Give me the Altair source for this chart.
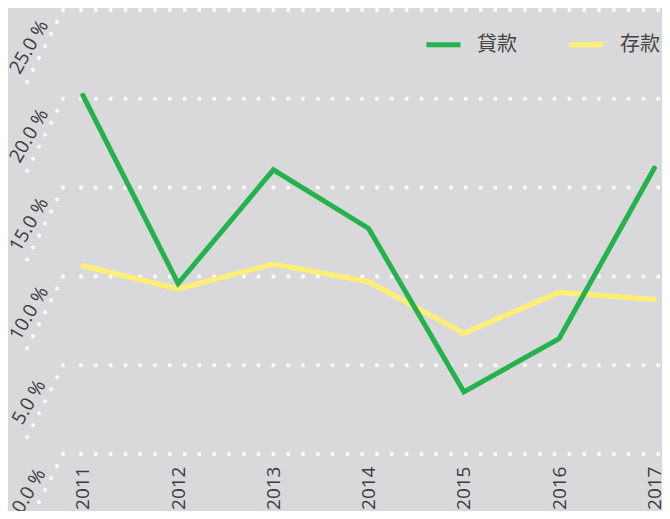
import altair as alt
import pandas as pd

years = [2011, 2012, 2013, 2014, 2015, 2016, 2017]
loans = [20.2, 9.6, 16.0, 12.7, 3.5, 6.5, 16.1]      # 貸款
deposits = [10.6, 9.3, 10.7, 9.7, 6.8, 9.1, 8.7]     # 存款
series_names = ["貸款", "存款"]
series_colors = ["#23b24b", "#fff073"]
y_ticks = [0, 5, 10, 15, 20, 25]
y_labels = ["0.0 %", "5.0 %", "10.0 %", "15.0 %", "20.0 %", "25.0 %"]

W, H = 602, 444
BG = "#d9d9db"
TXT = "#3c3c3c"

df = pd.DataFrame(
    [{"year": y, "value": v, "series": "貸款"} for y, v in zip(years, loans)]
    + [{"year": y, "value": v, "series": "存款"} for y, v in zip(years, deposits)]
)
ticks_df = pd.DataFrame({"v": y_ticks, "label": y_labels})

xscale = alt.Scale(domain=[2010.76, 2017.08], nice=False, zero=False)
yscale = alt.Scale(domain=[0, 25], nice=False, zero=True)

grid = alt.Chart(ticks_df).mark_rule(
    color="white", strokeWidth=4, strokeCap="round", strokeDash=[0, 14.8]
).encode(
    x=alt.value(21), x2=alt.value(W),
    y=alt.Y("v:Q", scale=yscale, axis=None),
)

diag = alt.Chart(ticks_df).mark_rule(
    color="white", strokeWidth=4, strokeCap="round", strokeDash=[0, 13.4], y2Offset=72
).encode(
    x=alt.value(3), x2=alt.value(-33),
    y=alt.Y("v:Q", scale=yscale, axis=None),
    y2="v:Q",
)

ylab = alt.Chart(ticks_df).mark_text(
    angle=300, align="center", baseline="middle", font="Open Sans",
    fontSize=19, color=TXT, yOffset=37
).encode(
    x=alt.value(-31),
    y=alt.Y("v:Q", scale=yscale, axis=None),
    text="label:N",
)

xaxis = alt.Axis(
    values=years, format="d", labelAngle=270, labelAlign="right",
    labelBaseline="middle", labelPadding=12, labelFont="Open Sans",
    labelFontSize=19, labelColor=TXT, domain=False, ticks=False, grid=False,
    title=None,
)

color = alt.Color(
    "series:N",
    scale=alt.Scale(domain=series_names, range=series_colors),
    legend=alt.Legend(
        orient="none", legendX=364, legendY=15, direction="horizontal",
        title=None, symbolType="stroke", symbolSize=1156, symbolStrokeWidth=5,
        labelFont="Noto Sans CJK TC", labelFontSize=20, labelColor="#444444",
        labelOffset=14, columnPadding=42, padding=0,
    ),
)

def line(name):
    return alt.Chart(df).transform_filter(
        alt.datum.series == name
    ).mark_line(strokeWidth=5, strokeCap="round").encode(
        x=alt.X("year:Q", scale=xscale, axis=xaxis),
        y=alt.Y("value:Q", scale=yscale, axis=None),
        color=color,
    )

chart = alt.layer(grid, diag, ylab, line("存款"), line("貸款")).properties(
    width=W, height=H,
    padding={"left": 52, "top": 2, "right": 0, "bottom": 57},
    autosize=alt.AutoSizeParams(type="none"),
    background=BG,
).configure_view(stroke=None)

chart.save("out.html", embed_options={"renderer": "svg", "actions": False})
